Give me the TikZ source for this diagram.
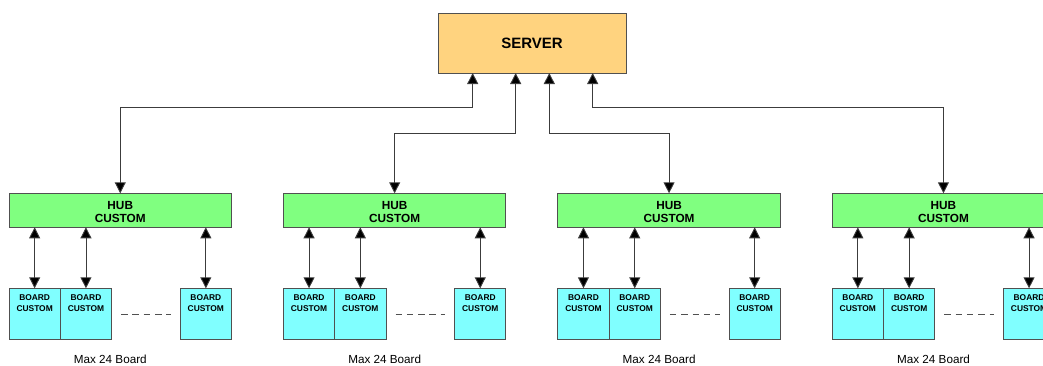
\documentclass[tikz,border=0pt]{standalone}
\usepackage{fontspec}
\setmainfont{Liberation Sans}
\usetikzlibrary{arrows.meta,calc}

\definecolor{serverfill}{HTML}{FFD37F}
\definecolor{hubfill}{HTML}{80FF80}
\definecolor{boardfill}{HTML}{80FFFF}
\definecolor{edge}{HTML}{505050}
\definecolor{wire}{HTML}{3C3C3C}

\tikzset{
  box/.style={draw=edge, line width=0.9pt, rectangle, inner sep=0pt, outer sep=0pt},
  serverbox/.style={box, fill=serverfill, minimum width=188pt, minimum height=60pt,
    font=\bfseries\fontsize{15}{18}\selectfont},
  hubbox/.style={box, fill=hubfill, minimum width=222.5pt, minimum height=34pt},
  boardbox/.style={box, fill=boardfill, minimum width=51.3pt, minimum height=50.7pt},
  hubtext/.style={anchor=north, inner sep=0pt, align=center,
    font=\bfseries\fontsize{11.8}{13.4}\selectfont},
  boardtext/.style={anchor=north, inner sep=0pt, align=center,
    font=\bfseries\fontsize{8.4}{11}\selectfont},
  captext/.style={anchor=base, inner sep=0pt, font=\fontsize{11.7}{14}\selectfont},
  tip/.style={Triangle[width=11pt,length=11pt,fill=black]},
  biarrow/.style={draw=wire, line width=0.9pt, {Triangle[width=11pt,length=11pt,fill=black]}-{Triangle[width=11pt,length=11pt,fill=black]}},
  gapline/.style={draw=edge, line width=0.9pt, dash pattern=on 6.5pt off 4.8pt}
}

\begin{document}
\begin{tikzpicture}[x=1pt,y=1pt]
  \useasboundingbox (0,0) rectangle (1043,-365);
  \clip (0,0) rectangle (1043,-365);

  % central server
  \node[serverbox] (server) at (532,-43) {SERVER};

  % four hub groups, each with its boards
  \foreach \k in {0,...,3}{
    \pgfmathsetmacro{\L}{9+274.4*\k}
    \node[hubbox, anchor=north west] (h\k) at (\L,-193.3) {};
    \node[hubtext] (h\k t) at ($(h\k.north)+(0,-7.6)$) {HUB\\CUSTOM};
    \node[boardbox, anchor=north west] (b\k a) at (\L,-288.3) {};
    \node[boardbox, anchor=north west] (b\k b) at (\L+51.3,-288.3) {};
    \node[boardbox, anchor=north east] (b\k c) at (\L+222.5,-288.3) {};
    \foreach \s in {a,b,c}{
      \node[boardtext] (b\k\s t) at ($(b\k\s.north)+(0,-6.2)$) {BOARD\\CUSTOM};
      \draw[biarrow] (b\k\s.north) -- (b\k\s.north |- h\k.south);
    }
    \coordinate (d\k l) at ($(b\k b.east)+(9.5,-0.4)$);
    \coordinate (d\k r) at ($(b\k c.west)+(-9.5,-0.4)$);
    \draw[gapline] (d\k l) -- (d\k r);
    \node[captext] (cap\k) at (\L+101.3,-363.5) {Max 24 Board};
  }

  % attachment points along the server's lower edge
  \coordinate (s0) at ($(server.south west)+(34.7,0)$);
  \coordinate (s1) at ($(server.south west)+(77.7,0)$);
  \coordinate (s2) at ($(server.south west)+(111.3,0)$);
  \coordinate (s3) at ($(server.south west)+(154.7,0)$);

  % hub-to-server links
  \draw[biarrow] (h0.north) |- ($(s0)+(0,-34.7)$) -- (s0);
  \draw[biarrow] (h1.north) |- ($(s1)+(0,-60.3)$) -- (s1);
  \draw[biarrow] (h2.north) |- ($(s2)+(0,-60.3)$) -- (s2);
  \draw[biarrow] (h3.north) |- ($(s3)+(0,-34.7)$) -- (s3);
\end{tikzpicture}
\end{document}
